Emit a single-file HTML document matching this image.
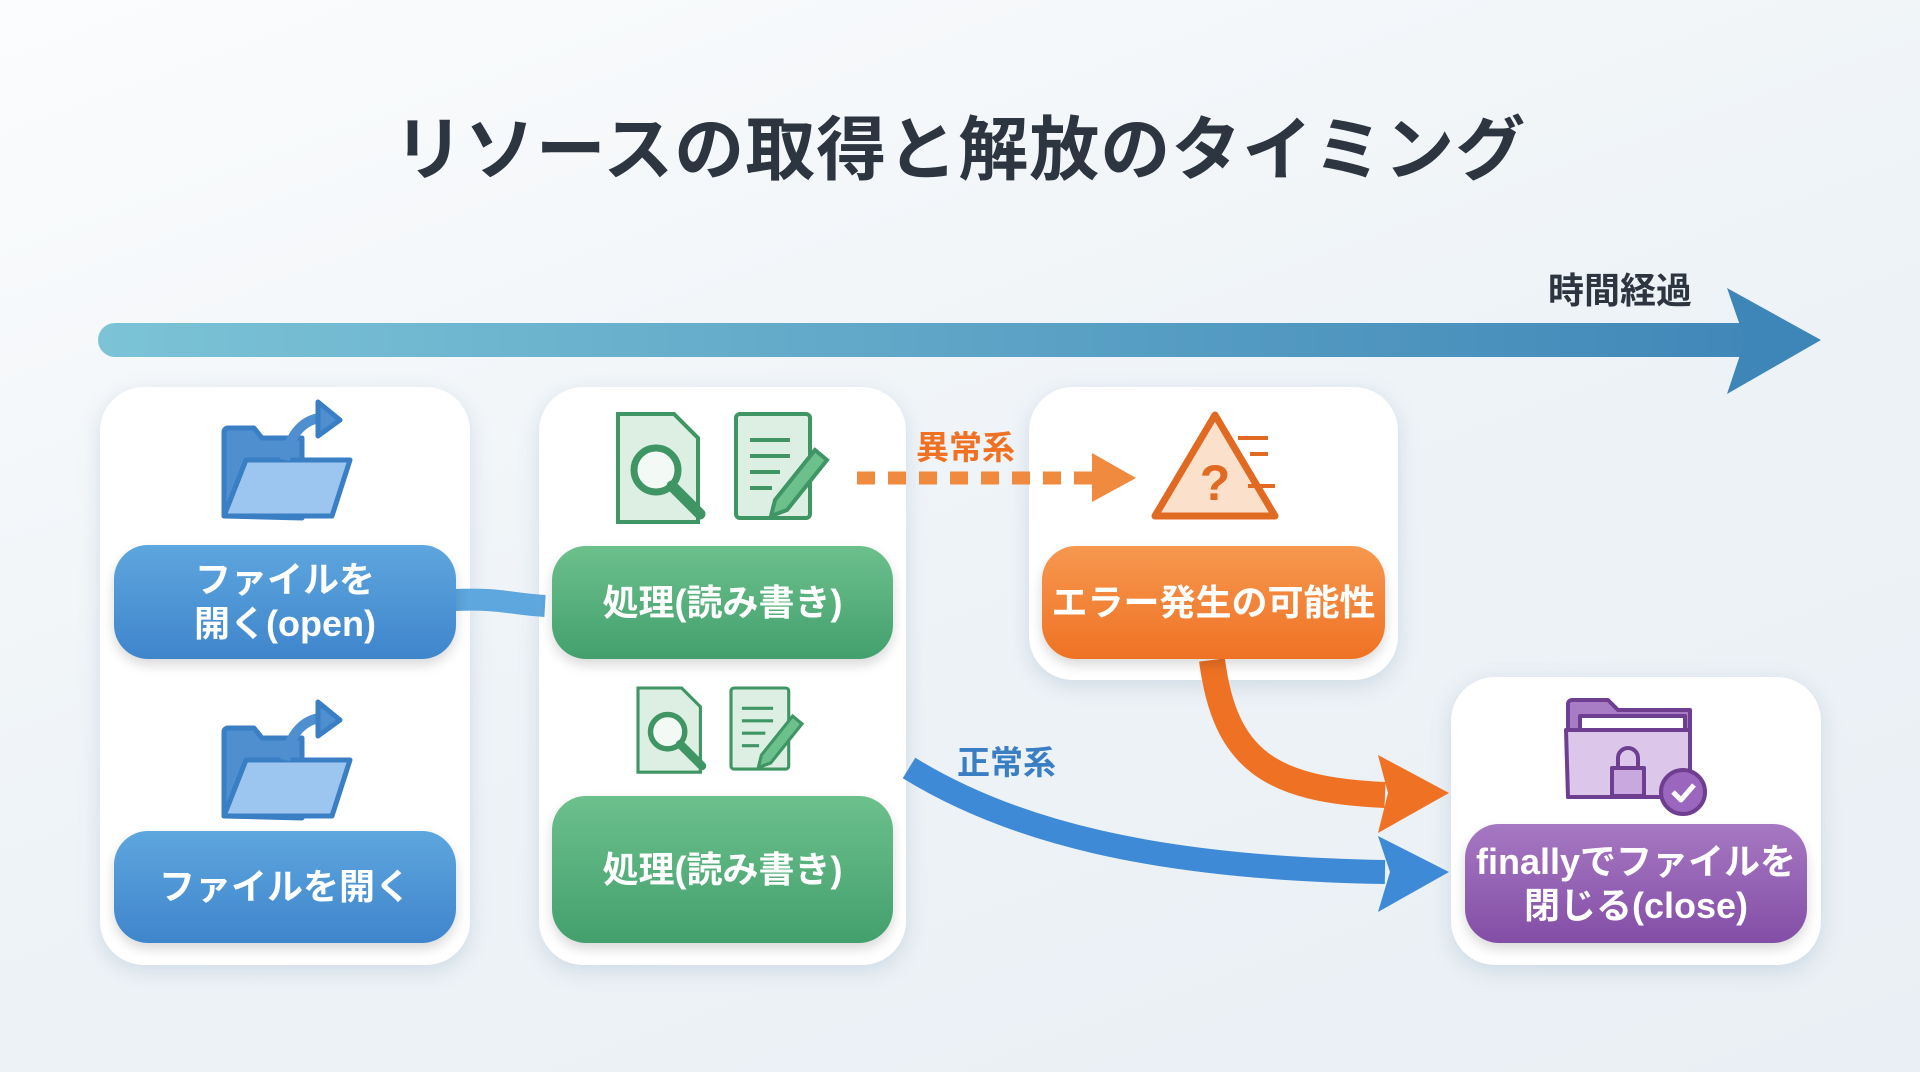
<!DOCTYPE html>
<html><head><meta charset="utf-8"><style>
*{margin:0;padding:0;box-sizing:border-box}
body{width:1920px;height:1072px;overflow:hidden;background:linear-gradient(160deg,#fbfcfd 0%,#eef3f7 50%,#e9eff4 100%);font-family:"Liberation Sans","Noto Sans CJK JP",sans-serif;position:relative}
.t{position:absolute;left:0;width:1920px;top:94px;text-align:center;font-size:70px;font-weight:bold;color:#2d3640;letter-spacing:1px}
.card{position:absolute;background:#fff;border-radius:44px;box-shadow:0 6px 20px rgba(120,150,180,.25)}
.btn{position:absolute;border-radius:34px;color:#fff;font-weight:bold;font-size:36px;display:flex;align-items:center;justify-content:center;text-align:center;line-height:44px;box-shadow:0 6px 12px rgba(0,0,0,.15)}
.b{background:linear-gradient(#5ea6de,#3f85cc)}
.g{background:linear-gradient(#6cc08c,#43a06d)}
.o{background:linear-gradient(#f6984f,#ef7224)}
.p{background:linear-gradient(#a678c2,#834ea6)}
.lbl{position:absolute;font-weight:bold;font-size:33px}
svg{position:absolute;left:0;top:0}
</style></head><body>
<div class="t">リソースの取得と解放のタイミング</div>
<div class="lbl" style="left:1548px;top:262px;color:#2d3640;font-size:36px">時間経過</div>

<div class="card" style="left:100px;top:387px;width:370px;height:578px"></div>
<div class="card" style="left:539px;top:387px;width:367px;height:578px"></div>
<div class="card" style="left:1029px;top:387px;width:369px;height:293px"></div>
<div class="card" style="left:1451px;top:677px;width:370px;height:288px"></div>

<svg width="1920" height="1072">
<defs><linearGradient id="tl" gradientUnits="userSpaceOnUse" x1="100" y1="0" x2="1800" y2="0"><stop offset="0" stop-color="#7cc3d6"/><stop offset="1" stop-color="#3f86b8"/></linearGradient></defs>
<line x1="115" y1="340" x2="1740" y2="340" stroke="url(#tl)" stroke-width="34" stroke-linecap="round"/>
<polygon points="1727,288 1821,340 1727,394 1745,340" fill="#3f86b8"/>
<path d="M455,600 C500,598 510,604 545,606" stroke="#5ea6de" stroke-width="22" fill="none"/>
<line x1="857" y1="478" x2="1092" y2="478" stroke="#f08a3e" stroke-width="13" stroke-dasharray="18,13"/>
<polygon points="1092,453 1136,478 1092,502" fill="#f08a3e"/>
<path d="M1212,660 C1225,760 1270,790 1385,795" stroke="#ef7224" stroke-width="26" fill="none"/>
<polygon points="1378,755 1449,793 1378,833 1388,793" fill="#ef7224"/>
<path d="M909,768 C1010,830 1150,868 1385,872" stroke="#3f8ad6" stroke-width="24" fill="none"/>
<polygon points="1378,836 1449,872 1378,912 1390,872" fill="#3f8ad6"/>
<g id="fo" transform="translate(0,170)" stroke="#3a7ec4" stroke-width="5" stroke-linejoin="round">
<path d="M224,346 V262 a4,4 0 0 1 4,-4 h26 l8,10 h40 v80 z" fill="#4f8fd0"/>
<path d="M224,346 L246,290 h104 l-18,56 z" fill="#9cc6ef"/>
<path d="M285,290 C290,262 305,250 320,248" stroke="#4f8fd0" stroke-width="10" fill="none"/>
<polygon points="318,232 340,250 318,266" fill="#4f8fd0"/>
</g>
<use href="#fo" transform="translate(0,300)"/>
<g id="ds" stroke="#3f9564" stroke-width="4" fill="#dcefe2">
<path d="M618,414 h56 l24,24 v84 h-80z"/>
<circle cx="656" cy="470" r="22" fill="#f3faf5" stroke-width="7"/>
<line x1="672" y1="486" x2="700" y2="514" stroke-width="11" stroke-linecap="round"/>
</g>
<g id="dp" stroke="#3f9564" stroke-width="4" fill="#dcefe2">
<rect x="736" y="414" width="74" height="104" rx="4"/>
<line x1="750" y1="440" x2="790" y2="440"/><line x1="750" y1="456" x2="790" y2="456"/><line x1="750" y1="472" x2="780" y2="472"/><line x1="750" y1="488" x2="772" y2="488"/>
<path d="M775,500 l40,-50 12,10 -40,50 -16,6z" fill="#6cc08c"/>
</g>
<g transform="translate(638,688) scale(0.78) translate(-618,-414)"><use href="#ds"/></g>
<g transform="translate(731,688) scale(0.78) translate(-736,-414)"><use href="#dp"/></g>
<path d="M1215,415 L1275,516 h-120z" fill="#fbe1cc" stroke="#e06a22" stroke-width="7" stroke-linejoin="round"/>
<text x="1215" y="500" font-size="50" font-weight="bold" fill="#e06a22" text-anchor="middle" font-family="Liberation Sans">?</text>
<line x1="1238" y1="438" x2="1268" y2="438" stroke="#e06a22" stroke-width="4"/>
<line x1="1250" y1="454" x2="1268" y2="454" stroke="#e06a22" stroke-width="4"/>
<line x1="1248" y1="486" x2="1275" y2="486" stroke="#e06a22" stroke-width="4"/>
<g stroke="#6e3f91" stroke-width="4" stroke-linejoin="round">
<path d="M1568,797 V704 a4,4 0 0 1 4,-4 h36 l10,10 h72 v87z" fill="#a97dc6"/>
<rect x="1580" y="716" width="105" height="20" fill="#fff"/>
<path d="M1566,730 h124 v67 h-122z" fill="#dcc6ea"/>
<rect x="1612" y="768" width="32" height="28" fill="#c8a8de"/>
<path d="M1618,768 v-10 a10,10 0 0 1 20,0 v10" fill="none"/>
<circle cx="1683" cy="792" r="22" fill="#9a66be"/>
<path d="M1673,792 l8,8 l13,-15" stroke="#fff" stroke-width="5" fill="none"/>
</g>
</svg>
<div class="lbl" style="left:916px;top:421px;color:#ef7224">異常系</div>
<div class="lbl" style="left:957px;top:736px;color:#3a7ec4">正常系</div>

<div class="btn b" style="left:114px;top:545px;width:342px;height:114px">ファイルを<br>開く(open)</div>
<div class="btn b" style="left:114px;top:831px;width:342px;height:112px">ファイルを開く</div>
<div class="btn g" style="left:552px;top:546px;width:341px;height:113px">処理(読み書き)</div>
<div class="btn g" style="left:552px;top:796px;width:341px;height:147px">処理(読み書き)</div>
<div class="btn o" style="left:1042px;top:546px;width:343px;height:113px">エラー発生の可能性</div>
<div class="btn p" style="left:1465px;top:824px;width:342px;height:119px">finallyでファイルを<br>閉じる(close)</div>
</body></html>
